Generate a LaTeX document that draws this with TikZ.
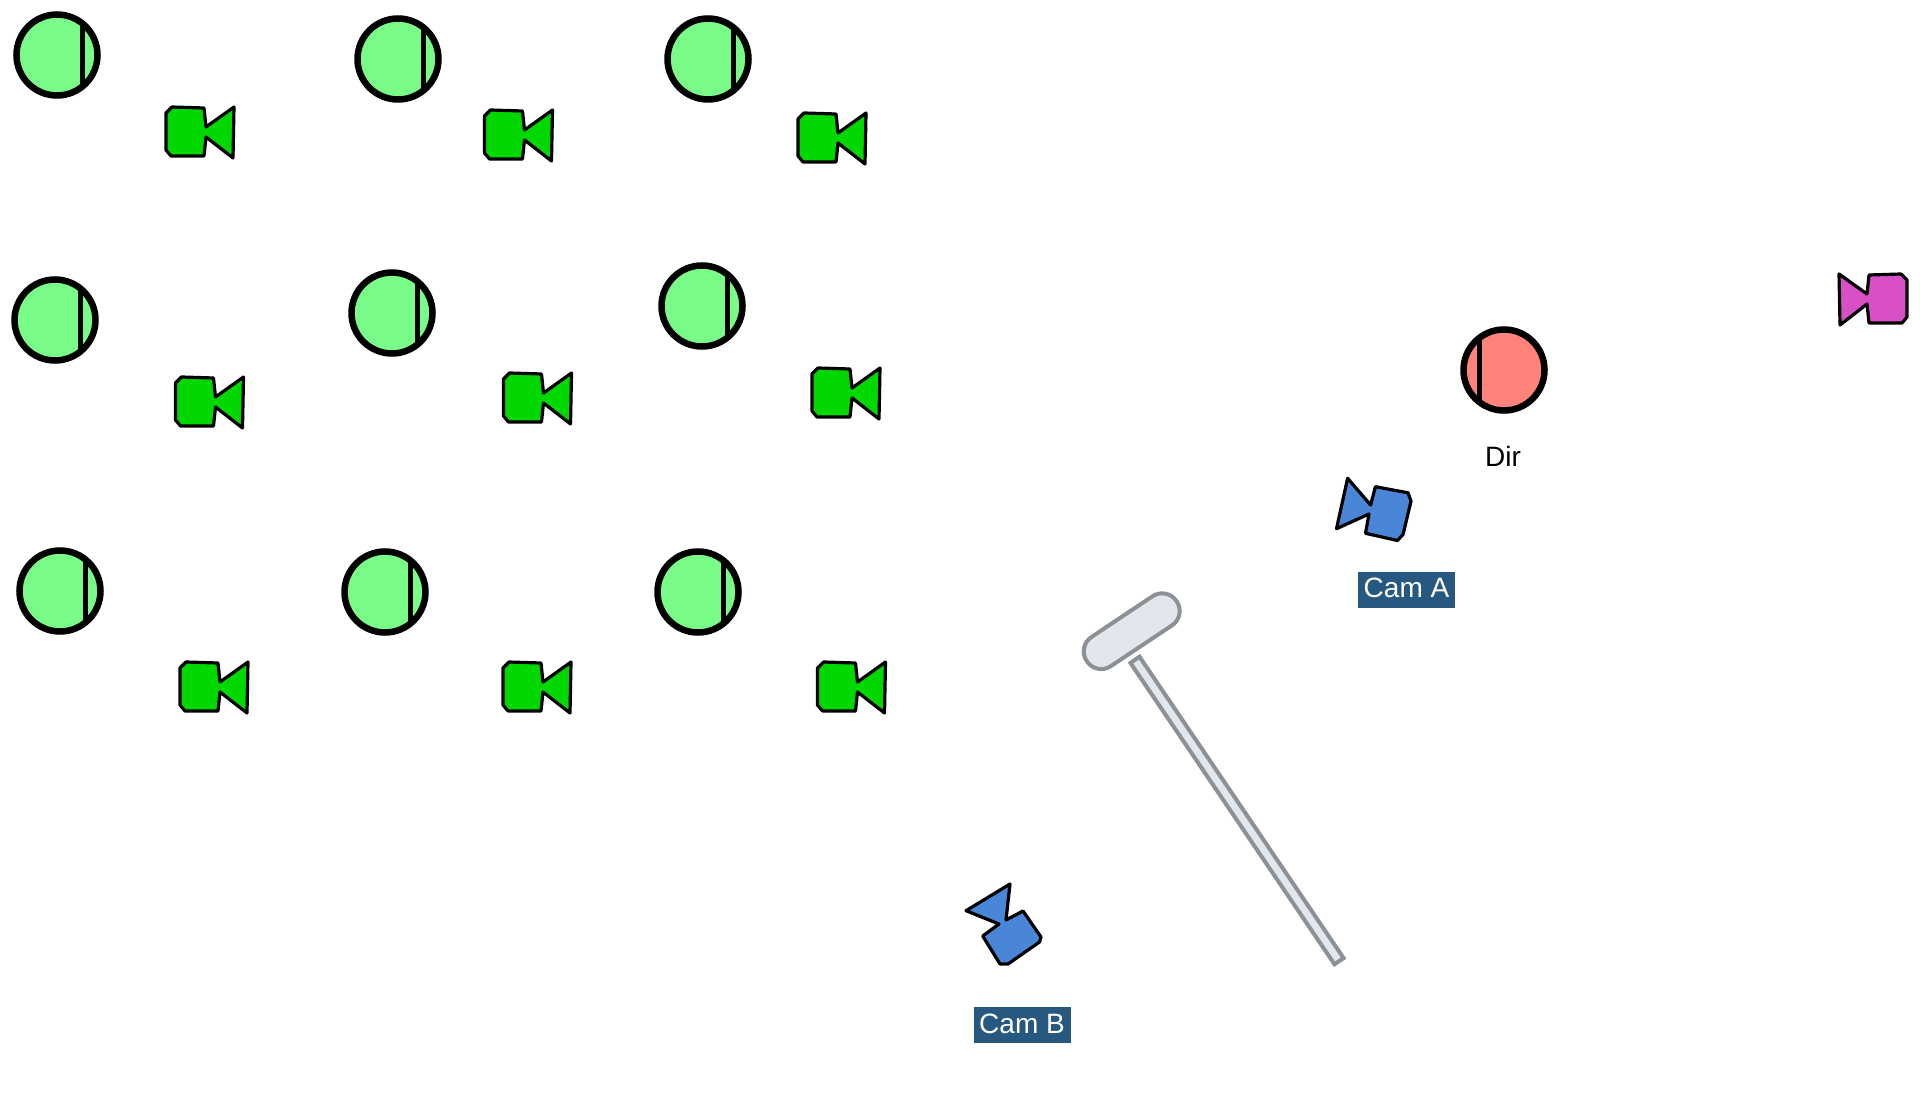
\documentclass[tikz,border=0pt]{standalone}
\usepackage{fontspec}
\setmainfont{Liberation Sans}
\usetikzlibrary{positioning}
\definecolor{persongreen}{HTML}{78FB87}
\definecolor{personred}{HTML}{FF8378}
\definecolor{camgreen}{HTML}{00D800}
\definecolor{cammagenta}{HTML}{D94FC6}
\definecolor{camblue}{HTML}{4A86D8}
\definecolor{tagblue}{HTML}{265880}
\definecolor{boomfill}{HTML}{E2E7EE}
\definecolor{boomline}{HTML}{8C9196}
\tikzset{
  person/.style={circle,draw=black,line width=3.25pt,minimum size=40.5pt,inner sep=0pt,
    path picture={\draw[line width=2.5pt] ([xshift=#1,yshift=-30pt]path picture bounding box.center) -- ++(0pt,60pt);}},
  camline/.style={draw=black,line width=1.6pt,line join=round},
  camera/.pic={\filldraw[camline] (-28,-25) -- (4,-24) -- (6,-5) -- (34,-25) -- (33,26) -- (6,5) -- (4,24) -- (-29,24) -- (-34,18) -- (-34,-19) -- cycle;},
  camtag/.style={fill=tagblue,text=white,font=\fontsize{14pt}{16pt}\selectfont,minimum width=48.5pt,minimum height=18pt,inner sep=0pt,text depth=1.5pt},
  boom/.style={draw=boomline,fill=boomfill,line width=2pt,inner sep=0pt},
}
\begin{document}
\begin{tikzpicture}[x=0.5pt,y=-0.5pt]
\useasboundingbox (0,0) rectangle (1920,1106);
\node[person=12.5pt,fill=persongreen] (p11) at (57,55) {};
\node[person=12.5pt,fill=persongreen] (p12) at (398,59) {};
\node[person=12.5pt,fill=persongreen] (p13) at (708,59) {};
\node[person=12.5pt,fill=persongreen] (p21) at (55,320) {};
\node[person=12.5pt,fill=persongreen] (p22) at (392,313) {};
\node[person=12.5pt,fill=persongreen] (p23) at (702,306) {};
\node[person=12.5pt,fill=persongreen] (p31) at (60,591) {};
\node[person=12.5pt,fill=persongreen] (p32) at (385,592) {};
\node[person=12.5pt,fill=persongreen] (p33) at (698,592) {};
\node[person=-12.5pt,fill=personred] (dir) at (1504,370) {};
\node[font=\fontsize{14pt}{16pt}\selectfont] (dirlabel) at (1503,456) {Dir};
\pic[fill=camgreen] (c11) at (200,132) {camera};
\pic[fill=camgreen] (c12) at (518.5,135) {camera};
\pic[fill=camgreen] (c13) at (832,138) {camera};
\pic[fill=camgreen] (c21) at (209.5,402) {camera};
\pic[fill=camgreen] (c22) at (537.5,398) {camera};
\pic[fill=camgreen] (c23) at (846,393) {camera};
\pic[fill=camgreen] (c31) at (214,687) {camera};
\pic[fill=camgreen] (c32) at (537,687) {camera};
\pic[fill=camgreen] (c33) at (851.5,687) {camera};
\pic[fill=cammagenta,xscale=-1] (cdir) at (1873,299) {camera};
\filldraw[camline,fill=camblue] (1347.6,478.3) -- (1370.6,505) -- (1375.4,486.7) -- (1408,492.8) -- (1411,501.2) -- (1403,534.5) -- (1397.4,540.5) -- (1365.5,533.3) -- (1369,514) -- (1336.5,528.7) -- cycle;
\filldraw[camline,fill=camblue] (1010,884) -- (1006,920) -- (1023,911) -- (1041,937) -- (1039.5,942) -- (1008,964) -- (1000,964) -- (982.7,936) -- (999,924) -- (966,910.7) -- cycle;
\node[camtag] (tagA) at (1406.5,589.5) {Cam A};
\node[camtag] (tagB) at (1022,1025) {Cam B};
\node[boom,rotate=33.7,minimum width=54pt,minimum height=17.5pt,rounded corners=8.6pt] (head) at (1131.7,631.2) {};
\node[boom,rotate=-55.9,minimum width=182pt,minimum height=5.5pt] (pole) at (1237,810.5) {};
\end{tikzpicture}
\end{document}
